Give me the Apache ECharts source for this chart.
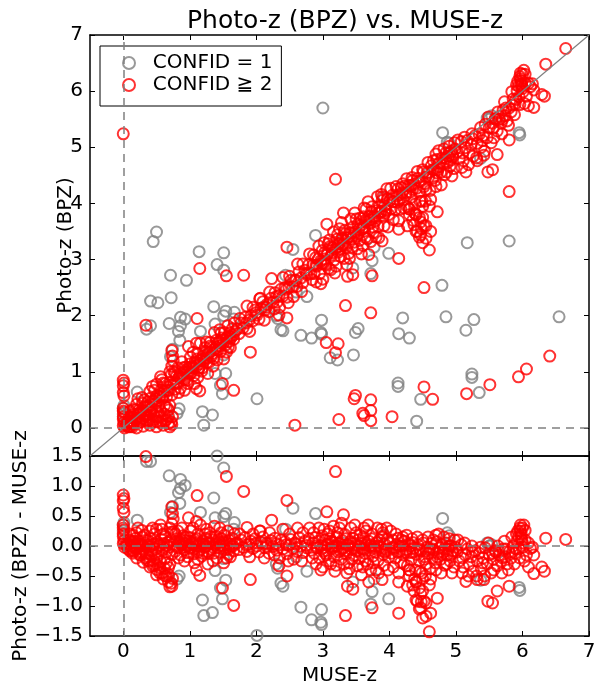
<!DOCTYPE html>
<html>
<head>
<meta charset="utf-8">
<script src="https://cdn.jsdelivr.net/npm/echarts@6/dist/echarts.min.js"></script>
<style>
html,body{margin:0;padding:0;background:#fff;}
#chart{width:605px;height:699px;}
</style>
</head>
<body>
<div id="chart"></div>
<script>
// ---------------- data ----------------
const seriesNames = ['CONFID = 1', 'CONFID \u2267 2'];
const xTickValues = [0, 1, 2, 3, 4, 5, 6, 7];
const yTopTickValues = [0, 1, 2, 3, 4, 5, 6, 7];

// CONFID = 1 : [MUSE-z, Photo-z]
const grayPoints = [
  [0.00,0.25],[0.00,0.35],[0.01,0.40],[0.21,0.64],[0.35,1.76],[0.41,1.82],[0.41,2.26],[0.52,2.23],
  [0.50,3.49],[0.45,3.32],[0.71,2.72],[0.95,2.63],[1.14,3.14],[1.51,3.12],[1.41,2.91],[1.51,2.81],
  [0.72,2.32],[1.36,2.16],[0.86,1.97],[0.93,1.94],[0.69,1.86],[0.86,1.82],[0.85,1.56],[0.71,1.27],
  [1.16,1.72],[1.51,2.00],[1.66,1.94],[1.51,1.30],[1.54,0.97],[1.49,0.61],[2.01,0.52],[1.19,0.29],
  [1.34,0.23],[1.21,0.05],[0.84,0.34],[0.81,0.26],[2.32,1.95],[2.37,1.75],[2.40,1.73],[0.83,1.72],
  [0.74,1.40],[1.38,1.85],[1.46,0.76],[1.54,2.08],[1.67,2.06],[1.38,0.97],[2.55,3.18],[2.44,2.72],
  [2.60,2.42],[2.30,2.00],[2.89,3.43],[2.76,2.34],[2.67,1.65],[2.83,1.60],[2.98,1.92],[2.97,1.70],
  [2.98,1.67],[3.53,1.77],[3.49,1.70],[3.11,1.25],[3.22,1.21],[3.46,1.30],[4.13,0.80],[4.13,0.74],
  [4.47,0.51],[4.41,0.12],[5.24,0.96],[5.24,0.90],[5.35,0.63],[3.72,2.75],[3.74,2.98],[3.99,3.11],
  [3.45,2.85],[3.77,3.22],[3.92,4.10],[5.17,3.30],[5.80,3.33],[4.79,2.54],[4.20,1.96],[4.85,1.98],
  [5.27,1.93],[6.55,1.98],[5.15,1.74],[4.14,1.68],[4.30,1.60],[3.00,5.70],[5.50,5.50],[4.80,5.26],
  [5.96,5.22],[4.90,5.07],[5.54,5.56],[4.87,5.09],[5.37,4.80],[5.47,5.52],[5.95,5.26],
  [0.90,0.95],[1.25,1.30],[2.10,2.15],[3.30,3.35],[3.60,3.55],[4.60,4.55],[5.65,5.55]
];

const redNearZero = [
  [0.00,5.24],[0.00,0.85],[0.01,0.80],[0.00,0.75],[0.00,0.63],[0.01,0.57],[0.00,0.35],[0.01,0.28],
  [0.00,0.20],[0.00,0.16],[0.01,0.10],[0.00,0.04],[0.02,0.00],[0.00,0.30]
];
const redLowCluster = [
  [0.05,0.05],[0.08,0.12],[0.10,0.02],[0.12,0.20],[0.15,0.08],[0.18,0.15],[0.20,0.00],[0.22,0.25],
  [0.25,0.10],[0.28,0.18],[0.30,0.03],[0.33,0.22],[0.36,0.12],[0.40,0.05],[0.42,0.28],[0.45,0.15],
  [0.50,0.02],[0.52,0.20],[0.55,0.10],[0.60,0.05],[0.62,0.25],[0.65,0.15],[0.70,0.02],[0.72,0.10],
  [0.74,0.20],[0.56,0.30],[0.68,0.32],[0.34,0.14],[0.39,0.14],[0.44,0.11],[0.50,0.11],[0.58,0.13],
  [0.63,0.13],[0.68,0.20],[0.73,0.06],[0.55,0.19],[0.68,0.08],[0.70,0.40],[0.65,0.37],
  [0.73,1.38],[0.74,1.28],[0.75,1.20],[0.73,1.10],[0.76,1.00],[0.72,0.95]
];
const redScatter = [
  [1.15,2.84],[1.55,2.71],[1.81,2.72],[2.23,2.66],[0.34,1.83],[1.11,1.95],[1.91,1.35],[1.49,0.79],
  [1.66,0.67],[1.15,0.66],[0.50,0.78],[0.98,1.45],[1.10,1.51],[2.06,2.31],[1.86,2.17],[1.10,0.70],
  [2.46,1.96],[2.34,2.01],[2.46,3.22],[3.06,3.63],[3.31,3.83],[3.19,4.43],
  [4.52,2.50],[3.34,2.18],[3.72,2.05],[3.05,1.52],[3.23,1.50],[3.19,1.34],[2.58,0.05],[3.24,0.15],
  [3.47,0.52],[3.49,0.58],[3.72,0.50],[3.60,0.26],[3.62,0.22],[3.72,0.31],[3.72,0.13],[4.04,0.20],
  [4.52,0.73],[4.65,0.51],[5.16,0.61],[5.51,0.77],[5.94,0.91],[6.06,1.05],[6.41,1.28],[4.14,3.02],
  [4.60,3.17],[5.80,4.21],[5.48,4.56],
  [3.45,2.73],[3.37,2.70],[3.74,2.71],[4.47,3.44],[4.52,3.60],[4.42,3.50],[4.55,3.38],[4.72,3.85],
  [4.37,3.62],[4.14,3.54],[4.27,3.60],[4.47,3.67],[3.69,3.09],[3.89,3.33],[5.55,4.60],
  [4.30,3.90],[4.35,3.70],[4.40,3.50],[4.45,3.40],[4.50,3.30],[4.55,3.60],[4.62,3.50],[4.40,3.80],
  [4.50,3.75],[4.48,3.55],[5.15,4.56],[5.32,4.76],[5.42,4.86],[5.62,4.87],[5.80,5.13],
  [6.09,5.74],[6.29,5.94],[6.12,6.08],[5.97,6.32],[6.09,6.14],
  [6.65,6.76],[6.35,6.48],[6.04,6.30],[6.15,6.13],[5.99,6.10],[6.17,6.02],[6.33,5.91],[6.17,5.71],
  [6.00,6.05],[5.97,6.22]
];

const redBandA = [
  [0.05,0.04],[0.07,-0.05],[0.09,0.10],[0.11,-0.02],[0.13,0.06],[0.15,-0.09],[0.17,0.02],[0.19,0.13],
  [0.21,-0.04],[0.23,0.08],[0.25,-0.11],[0.27,0.01],[0.29,0.15],[0.31,-0.06],[0.33,0.05],[0.35,-0.13],
  [0.37,0.09],[0.39,-0.01],[0.41,0.12],[0.43,-0.08],[0.45,0.03],[0.47,0.20],[0.49,-0.05],[0.51,0.07],
  [0.53,-0.12],[0.55,0.00],[0.57,0.11],[0.59,-0.07],[0.61,0.04],[0.63,0.16],[0.65,-0.10],[0.67,0.06],
  [0.69,-0.02],[0.71,0.10],[0.73,-0.14],
  [0.12,0.00],[0.18,-0.03],[0.24,0.03],[0.30,0.00],[0.36,0.02],[0.42,0.00],[0.48,0.04],[0.54,0.02],
  [0.60,-0.02],[0.66,0.01],[0.20,0.22],[0.40,0.25],[0.58,0.28],[0.15,0.18],
  [0.10,0.20],[0.14,-0.12],[0.22,0.30],[0.26,-0.15],[0.32,0.18],[0.38,-0.18],[0.44,0.30],[0.50,-0.20],
  [0.56,0.35],[0.62,-0.22],[0.70,0.30],[0.46,-0.25],[0.28,0.26],[0.16,0.08],[0.60,0.20]
];
const redBandB = [
  [0.76,0.03],[0.78,-0.09],[0.80,0.12],[0.82,-0.03],[0.84,0.07],[0.86,-0.15],[0.88,0.02],[0.90,0.17],
  [0.92,-0.06],[0.94,0.09],[0.96,-0.11],[0.98,0.01],[1.00,0.14],[1.02,-0.04],[1.04,0.06],[1.06,-0.13],
  [1.08,0.10],[1.10,0.00],[1.12,0.20],[1.14,-0.07],[1.16,0.04],[1.18,-0.17],[1.20,0.08],[1.22,-0.02],
  [1.24,0.13],[1.26,-0.09],[1.28,0.05],[1.30,0.22],[1.32,-0.05],[1.34,0.10],[1.36,-0.12],[1.38,0.02],
  [1.40,0.16],[1.42,-0.03],[1.44,0.07],[1.46,-0.10],[1.48,0.12],[1.50,0.00],[1.52,0.18],[1.54,-0.06],
  [1.56,0.05],[1.58,-0.14],[1.60,0.09],[1.62,-0.01],[1.64,0.13],[1.66,-0.08],[1.68,0.04],
  [0.80,0.00],[0.85,0.05],[0.90,-0.02],[0.95,0.04],[1.00,-0.03],[1.05,0.02],[1.10,0.06],[1.15,-0.01],
  [1.20,0.03],[1.25,0.00],[1.30,0.05],[1.35,-0.02],[1.40,0.04],[1.45,0.01],[1.50,0.07],[1.55,0.02],
  [1.60,0.03],[1.65,0.00],[0.82,0.25],[1.05,0.30],[1.25,0.28],[1.45,0.30],[0.92,-0.25],[1.12,-0.22],
  [1.35,-0.25],[1.55,-0.20],
  [0.78,0.20],[0.83,-0.20],[0.88,0.30],[0.93,0.15],[0.97,-0.18],[1.01,0.25],[1.07,-0.28],[1.11,0.12],
  [1.16,0.35],[1.19,-0.12],[1.23,0.20],[1.27,-0.30],[1.31,0.15],[1.37,0.33],[1.41,-0.20],[1.47,0.22],
  [1.51,-0.28],[1.57,0.25],[1.61,-0.18],[1.67,0.20],[0.87,0.10],[0.99,0.08],[1.13,-0.10],[1.29,-0.12],
  [1.43,0.10],[1.59,-0.05]
];
const redBandC = [
  [1.71,0.05],[1.74,-0.06],[1.77,0.10],[1.80,-0.02],[1.83,0.14],[1.86,-0.09],[1.89,0.03],[1.92,0.08],
  [1.95,-0.04],[1.98,0.12],[2.01,0.00],[2.04,-0.10],[2.07,0.06],[2.10,0.15],[2.13,-0.03],[2.16,0.04],
  [2.19,-0.12],[2.22,0.09],[2.25,-0.01],[2.28,0.13],[2.31,-0.07],[2.34,0.02],[2.37,0.10],[2.40,-0.05],
  [2.43,0.07],[2.46,-0.13],[2.49,0.01],[2.52,0.11],[2.55,-0.04],[2.58,0.05],[2.61,-0.09],[2.64,0.14],
  [2.67,0.00],[2.70,-0.11],[2.73,0.08],[2.76,-0.03],[2.79,0.12],[2.82,-0.07],
  [1.85,0.02],[2.00,0.05],[2.15,0.00],[2.30,0.04],[2.45,0.02],[2.60,0.03],[2.75,0.01],[1.95,0.20],
  [2.20,0.22],[2.50,0.20],[2.70,0.22],[2.35,-0.20],[2.56,-0.22],
  [1.75,0.20],[1.90,-0.18],[2.05,0.25],[2.12,-0.20],[2.27,-0.15],[2.40,0.28],[2.48,-0.25],[2.62,0.30],
  [2.68,-0.25],[2.80,0.30],[2.84,-0.20]
];
const redBandD = [
  [2.85,0.05],[2.87,-0.12],[2.89,0.14],[2.91,-0.03],[2.93,0.08],[2.95,-0.20],[2.97,0.01],[2.99,0.17],
  [3.01,-0.08],[3.03,0.10],[3.05,-0.15],[3.07,0.03],[3.09,-0.25],[3.11,0.12],[3.13,-0.05],[3.15,0.06],
  [3.17,-0.18],[3.19,0.00],[3.21,0.15],[3.23,-0.10],[3.25,0.04],[3.27,-0.22],[3.29,0.09],[3.31,-0.02],
  [3.33,0.19],[3.35,-0.13],[3.37,0.02],[3.39,-0.28],[3.41,0.07],[3.43,-0.06],[3.45,0.13],[3.47,-0.16],
  [3.49,0.00],[3.51,-0.09],[3.53,0.10],[3.55,-0.21],[3.57,0.04],[3.59,-0.04],[3.61,0.15],[3.63,-0.12],
  [3.65,0.02],[3.67,-0.30],[3.69,0.08],[3.71,-0.07],[3.73,0.12],[3.75,-0.17],[3.77,0.00],[3.79,-0.10],
  [3.81,0.06],[3.83,-0.24],[3.85,0.10],[3.87,-0.03],[3.89,0.16],[3.91,-0.14],[3.93,0.03],[3.95,-0.08],
  [3.97,0.11],[3.99,-0.19],
  [2.90,0.00],[2.98,-0.05],[3.06,0.02],[3.14,-0.02],[3.22,0.00],[3.30,-0.04],[3.38,0.01],[3.46,-0.03],
  [3.54,0.00],[3.62,-0.05],[3.70,0.00],[3.78,-0.04],[3.86,-0.01],[3.94,-0.05],[3.00,-0.35],[3.20,-0.32],
  [3.40,-0.38],[3.60,-0.35],[3.80,-0.40],[3.10,0.25],[3.50,0.22],[3.90,0.22],[3.25,0.30],[3.65,0.25],
  [2.86,0.22],[2.90,-0.30],[2.94,0.30],[2.97,-0.40],[3.02,0.28],[3.04,-0.12],[3.08,0.20],[3.12,-0.30],
  [3.16,0.33],[3.18,-0.42],[3.22,0.22],[3.26,-0.08],[3.28,0.38],[3.32,-0.30],[3.34,0.12],[3.36,-0.45],
  [3.42,0.30],[3.44,-0.22],[3.48,0.35],[3.52,-0.33],[3.56,0.18],[3.58,-0.48],[3.62,0.30],[3.64,-0.25],
  [3.68,0.35],[3.72,-0.40],[3.74,0.20],[3.76,-0.28],[3.82,0.30],[3.84,-0.45],[3.88,0.28],[3.92,-0.32],
  [3.96,0.30],[3.98,-0.40],[3.03,-0.02],[3.13,0.08],[3.23,0.05],[3.33,-0.08],[3.43,0.04],[3.53,-0.07],
  [3.63,0.06],[3.73,-0.02],[3.83,0.00],[3.93,-0.10]
];
const redBandE = [
  [4.01,0.05],[4.03,-0.12],[4.05,0.10],[4.07,-0.04],[4.09,-0.20],[4.11,0.02],[4.13,0.13],[4.15,-0.09],
  [4.17,-0.27],[4.19,0.00],[4.21,-0.15],[4.23,0.08],[4.25,-0.06],[4.27,-0.33],[4.29,0.03],[4.31,-0.11],
  [4.33,-0.22],[4.35,0.06],[4.37,-0.03],[4.39,-0.40],[4.41,-0.14],[4.43,0.02],[4.45,-0.25],[4.47,-0.08],
  [4.49,-0.45],[4.51,0.05],[4.53,-0.18],[4.55,-0.30],[4.57,-0.02],[4.59,-0.12],[4.61,-0.38],[4.63,0.04],
  [4.65,-0.20],[4.67,-0.07],[4.69,-0.28],[4.71,0.07],[4.73,-0.13],[4.75,-0.03],[4.77,-0.22],[4.79,0.02],
  [4.81,-0.10],[4.83,-0.32],[4.85,0.05],[4.87,-0.15],[4.89,-0.05],[4.91,-0.25],[4.93,0.00],[4.95,-0.12],
  [4.97,-0.35],[4.99,-0.02],
  [4.05,-0.02],[4.15,0.00],[4.25,-0.10],[4.35,-0.10],[4.45,-0.05],[4.55,-0.08],[4.65,-0.05],[4.75,-0.10],
  [4.85,-0.05],[4.95,-0.08],[4.40,-0.60],[4.50,-0.55],[4.60,-0.65],[4.30,-0.50],[4.45,-0.70],[4.20,0.15],
  [4.70,0.18],[4.90,0.12],
  [4.02,0.25],[4.06,-0.35],[4.10,0.20],[4.14,-0.45],[4.18,0.10],[4.22,-0.30],[4.26,0.18],[4.30,-0.40],
  [4.34,0.12],[4.38,-0.55],[4.42,0.15],[4.46,-0.42],[4.50,0.10],[4.54,-0.50],[4.58,0.15],[4.62,-0.55],
  [4.66,0.10],[4.70,-0.40],[4.74,0.20],[4.78,-0.45],[4.82,0.15],[4.86,-0.30],[4.90,0.00],[4.94,-0.45],
  [4.98,0.10],[4.12,-0.10],[4.32,0.00],[4.52,-0.22],[4.72,-0.18],[4.92,-0.15]
];
const redBandF = [
  [5.02,-0.10],[5.05,-0.25],[5.08,0.02],[5.11,-0.35],[5.14,-0.15],[5.17,-0.05],[5.20,-0.30],[5.23,-0.18],
  [5.26,-0.42],[5.29,-0.08],[5.32,-0.25],[5.35,-0.12],[5.38,-0.38],[5.41,-0.20],[5.44,-0.03],[5.47,-0.30],
  [5.50,-0.15],[5.53,-0.45],[5.56,-0.22],[5.59,-0.08],[5.62,-0.33],[5.65,-0.15],[5.68,-0.25],[5.71,-0.05],
  [5.74,-0.18],[5.77,-0.30],[5.80,-0.10],[5.83,-0.20],[5.86,0.00],[5.89,-0.12],[5.92,0.08],[5.95,-0.05],
  [5.98,0.15],[6.01,-0.02],[6.04,0.10],
  [5.10,-0.20],[5.25,-0.10],[5.40,-0.28],[5.55,-0.12],[5.70,-0.20],[5.85,-0.10],[5.93,0.25],[6.06,-0.15],
  [5.03,0.10],[5.09,-0.45],[5.13,0.05],[5.19,-0.50],[5.24,0.00],[5.31,-0.50],[5.37,-0.02],[5.43,-0.50],
  [5.49,0.05],[5.57,-0.40],[5.63,0.00],[5.69,-0.45],[5.73,0.08],[5.79,-0.40],[5.84,0.15],[5.88,-0.30],
  [5.91,0.20],[5.96,-0.20],[6.00,0.30],[6.03,-0.25],[5.60,-0.10],[5.75,-0.05],[5.90,-0.05],
  [5.96,0.30],[5.98,0.20],[6.02,0.35],[5.94,0.15]
];

// ---------------- chart ----------------
const FONT = 'DejaVu Sans';
const GRAY = '#808080';
const RED = '#ff0000';
const bandResiduals = redBandA.concat(redBandB, redBandC, redBandD, redBandE, redBandF);
const redPoints = redNearZero.concat(redLowCluster, redScatter,
  bandResiduals.map(p => [p[0], +(p[0] + p[1]).toFixed(3)]));
const toResidual = pts => pts.map(p => [p[0], +(p[1] - p[0]).toFixed(3)]);

const frame = { show: true, onZero: false, lineStyle: { color: '#000', width: 1.5 } };
const tick = (vals) => ({ show: true, inside: true, length: 5, lineStyle: { color: '#000', width: 1 }, customValues: vals });
const noLabel = { show: false };
const fmtNum = v => (v < 0 ? '\u2212' : '') + Math.abs(v).toFixed(1);
const nameStyle = { fontFamily: FONT, fontSize: 20, color: '#000' };

const scatterStyle = (c) => ({
  symbol: 'circle', symbolSize: 11,
  itemStyle: { color: 'rgba(0,0,0,0)', borderColor: c, borderWidth: 2 }
});
const dashLine = { color: GRAY, width: 1.5, type: [8, 6] };

const chart = echarts.init(document.getElementById('chart'), null, { renderer: 'canvas' });
chart.setOption({
  animation: false,
  backgroundColor: '#fff',
  title: {
    text: 'Photo-z (BPZ) vs. MUSE-z',
    left: 340, top: 4, textAlign: 'center',
    textStyle: { fontFamily: FONT, fontSize: 25, fontWeight: 'normal', color: '#000' }
  },
  legend: {
    orient: 'vertical', left: 100, top: 46,
    padding: [7, 9, 11, 22], itemGap: 2,
    itemWidth: 12, itemHeight: 12,
    borderColor: '#000', borderWidth: 1, backgroundColor: '#fff',
    formatter: n => '  ' + n,
    textStyle: { fontFamily: FONT, fontSize: 20, color: '#000' },
    data: [
      { name: seriesNames[0], icon: 'circle', itemStyle: { color: 'rgba(0,0,0,0)', borderColor: GRAY, borderWidth: 2 } },
      { name: seriesNames[1], icon: 'circle', itemStyle: { color: 'rgba(0,0,0,0)', borderColor: RED, borderWidth: 2 } }
    ]
  },
  grid: [
    { left: 90, top: 35, width: 499, height: 421 },
    { left: 90, top: 456, width: 499, height: 180 }
  ],
  xAxis: [
    { gridIndex: 0, type: 'value', min: -0.5, max: 7, axisLine: frame, axisTick: tick(xTickValues), axisLabel: noLabel, splitLine: { show: false } },
    { gridIndex: 0, type: 'value', position: 'top', min: -0.5, max: 7, axisLine: frame, axisTick: tick(xTickValues), axisLabel: noLabel, splitLine: { show: false } },
    { gridIndex: 1, type: 'value', min: -0.5, max: 7, axisLine: frame, axisTick: tick(xTickValues),
      axisLabel: { show: true, customValues: xTickValues, margin: 6, fontFamily: FONT, fontSize: 20, color: '#000' },
      splitLine: { show: false },
      name: 'MUSE-z', nameLocation: 'middle', nameGap: 30, nameMoveOverlap: false, nameTextStyle: nameStyle },
    { gridIndex: 1, type: 'value', position: 'top', min: -0.5, max: 7, axisLine: frame, axisTick: tick(xTickValues), axisLabel: noLabel, splitLine: { show: false } }
  ],
  yAxis: [
    { gridIndex: 0, type: 'value', min: -0.5, max: 7, axisLine: frame, axisTick: tick(yTopTickValues),
      axisLabel: { show: true, customValues: yTopTickValues, margin: 7, fontFamily: FONT, fontSize: 20, color: '#000' },
      splitLine: { show: false },
      name: 'Photo-z (BPZ)', nameLocation: 'middle', nameGap: 14, nameMoveOverlap: false, nameTextStyle: nameStyle },
    { gridIndex: 0, type: 'value', position: 'right', min: -0.5, max: 7, axisLine: frame, axisTick: tick(yTopTickValues), axisLabel: noLabel, splitLine: { show: false } },
    { gridIndex: 1, type: 'value', min: -1.5, max: 1.5, interval: 0.5, axisLine: frame,
      axisTick: { show: true, inside: true, length: 5, lineStyle: { color: '#000', width: 1 } },
      axisLabel: { show: true, margin: 7, formatter: fmtNum, fontFamily: FONT, fontSize: 20, color: '#000' },
      splitLine: { show: false },
      name: 'Photo-z (BPZ) - MUSE-z', nameLocation: 'middle', nameGap: 59, nameMoveOverlap: false, nameTextStyle: nameStyle },
    { gridIndex: 1, type: 'value', position: 'right', min: -1.5, max: 1.5, interval: 0.5, axisLine: frame,
      axisTick: { show: true, inside: true, length: 5, lineStyle: { color: '#000', width: 1 } },
      axisLabel: noLabel, splitLine: { show: false } }
  ],
  series: [
    Object.assign({
      name: seriesNames[0], type: 'scatter', xAxisIndex: 0, yAxisIndex: 0, data: grayPoints, z: 3,
      markLine: {
        silent: true, symbol: 'none', label: { show: false }, animation: false,
        data: [
          { xAxis: 0, lineStyle: dashLine },
          { yAxis: 0, lineStyle: dashLine },
          [{ coord: [-0.5, -0.5], lineStyle: { color: GRAY, width: 1.2, type: 'solid' } }, { coord: [7, 7] }]
        ]
      }
    }, scatterStyle(GRAY)),
    Object.assign({ name: seriesNames[1], type: 'scatter', xAxisIndex: 0, yAxisIndex: 0, data: redPoints, z: 4 }, scatterStyle(RED)),
    Object.assign({
      name: seriesNames[0], type: 'scatter', xAxisIndex: 2, yAxisIndex: 2, data: toResidual(grayPoints), z: 3,
      markLine: {
        silent: true, symbol: 'none', label: { show: false }, animation: false,
        data: [ { xAxis: 0, lineStyle: dashLine }, { yAxis: 0, lineStyle: dashLine } ]
      }
    }, scatterStyle(GRAY)),
    Object.assign({ name: seriesNames[1], type: 'scatter', xAxisIndex: 2, yAxisIndex: 2, data: toResidual(redPoints), z: 4 }, scatterStyle(RED))
  ]
});
</script>
</body>
</html>
